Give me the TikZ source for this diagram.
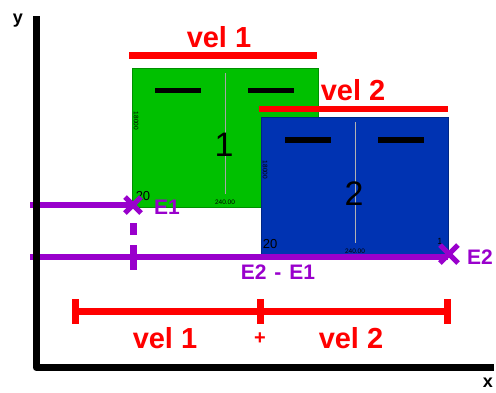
\documentclass[tikz,border=0pt]{standalone}
\usepackage{fontspec}
\setmainfont{Liberation Sans}
\definecolor{myred}{RGB}{255,0,0}
\definecolor{mypurple}{RGB}{153,0,204}
\definecolor{mygreen}{RGB}{0,192,0}
\definecolor{myblue}{RGB}{0,51,178}
\begin{document}
\begin{tikzpicture}[x=1pt,y=-1pt,
  block/.style={draw=#1!75!black, line width=0.6pt, fill=#1, anchor=north west, inner sep=0pt},
  redline/.style={myred, line width=7pt},
  purpline/.style={mypurple, line width=6pt},
  axisline/.style={black, line width=7pt, line join=round},
  bar/.style={black, line width=5.5pt},
  divider/.style={line width=0.8pt, gray!70},
  redlbl/.style={text=myred, font=\bfseries\fontsize{29}{29}\selectfont, inner sep=0pt, anchor=base},
  purplbl/.style={text=mypurple, font=\bfseries\fontsize{21}{21}\selectfont, inner sep=0pt},
  axlbl/.style={font=\bfseries\fontsize{18}{18}\selectfont, inner sep=0pt},
  bignum/.style={font=\fontsize{34}{34}\selectfont, inner sep=0pt},
  smalltxt/.style={font=\fontsize{13}{13}\selectfont, inner sep=0pt},
  tinytxt/.style={font=\fontsize{6.5}{6.5}\selectfont, inner sep=0pt},
  xmk/.style={mypurple, line width=5pt},
  pt/.style={inner sep=0pt, minimum size=0pt}
]
\useasboundingbox (0,0) rectangle (496,392);

% blocks
\node[block=mygreen, minimum width=186pt, minimum height=139pt] (b1) at (132,68) {};
\draw[divider] (225,73) -- (225,194);
\draw[bar] (155,90.5) -- (201,90.5);
\draw[bar] (248,90.5) -- (294,90.5);
\node[bignum] (n1) at (224,145) {1};
\node[smalltxt] (g20) at (143,196) {20};
\node[tinytxt] (g240) at (225,202) {240.00};
\node[tinytxt, rotate=-90] (g18) at (136,121) {18000};

\node[block=myblue, minimum width=187pt, minimum height=138pt] (b2) at (261,117) {};
\draw[divider, gray!60] (355,122) -- (355,243);
\draw[bar] (285,140) -- (331,140);
\draw[bar] (378,140) -- (424,140);
\node[bignum] (n2) at (354,194) {2};
\node[smalltxt] (b20) at (270,244) {20};
\node[smalltxt, font=\fontsize{9}{9}\selectfont] (b1s) at (440,241) {1};
\node[tinytxt] (b240) at (355,251) {240.00};
\node[tinytxt, rotate=-90] (b18) at (265,170) {18000};

% top red bars
\coordinate (r1a) at (129,55.5);
\coordinate (r1b) at (317,55.5);
\draw[redline] (r1a) -- (r1b);
\node[redlbl] (v1) at (219,47) {vel 1};
\coordinate (r2a) at (259,108.5);
\coordinate (r2b) at (448,108.5);
\draw[redline, line width=6pt] (r2a) -- (r2b);
\node[redlbl] (v2) at (353,100) {vel 2};

% purple lines and marks
\node[pt] (x1) at (133,205) {};
\node[pt] (x2) at (449,254) {};
\coordinate (p1) at (30,205);
\coordinate (p2) at (30,257);
\coordinate (p3) at (448,257);
\draw[purpline] (p1) -- (x1.center);
\draw[purpline] (p2) -- (p3);
\coordinate (d1) at (133,223);
\coordinate (d2) at (133,270);
\draw[purpline, line width=7pt, dash pattern=on 12pt off 10pt on 30pt] (d1) -- (d2);
\draw[xmk] ([shift={(-8,-8)}]x1.center) -- ([shift={(8,8)}]x1.center);
\draw[xmk] ([shift={(-8,8)}]x1.center) -- ([shift={(8,-8)}]x1.center);
\draw[xmk] ([shift={(-9,-9)}]x2.center) -- ([shift={(9,9)}]x2.center);
\draw[xmk] ([shift={(-9,9)}]x2.center) -- ([shift={(9,-9)}]x2.center);
\node[purplbl] (e1) at (167,207) {E1};
\node[purplbl] (e2) at (480,257) {E2};
\node[purplbl] (e21) at (278,272) {E2\hspace{8pt}-\hspace{8pt}E1};

% bottom dimension
\coordinate (q1) at (75,311.5);
\coordinate (q2) at (260,311.5);
\coordinate (q3) at (447,311.5);
\draw[redline] (q1) -- (q3);
\draw[redline] ([yshift=-12]q1) -- ([yshift=13]q1);
\draw[redline] ([yshift=-12]q2) -- ([yshift=13]q2);
\draw[redline] ([yshift=-12]q3) -- ([yshift=13]q3);
\node[redlbl] (v1b) at (165,348) {vel 1};
\node[redlbl] (v2b) at (351,348) {vel 2};
\node[text=myred, font=\bfseries\fontsize{20}{20}\selectfont, inner sep=0pt] (plus) at (260,339) {+};

% axes
\coordinate (ytop) at (36,16);
\coordinate (orig) at (36,367.5);
\coordinate (xend) at (494,367.5);
\draw[axisline] (ytop) -- (orig) -- (xend);
\node[axlbl] (ylab) at (18,21) {y};
\node[axlbl] (xlab) at (488,383) {x};
\end{tikzpicture}
\end{document}
